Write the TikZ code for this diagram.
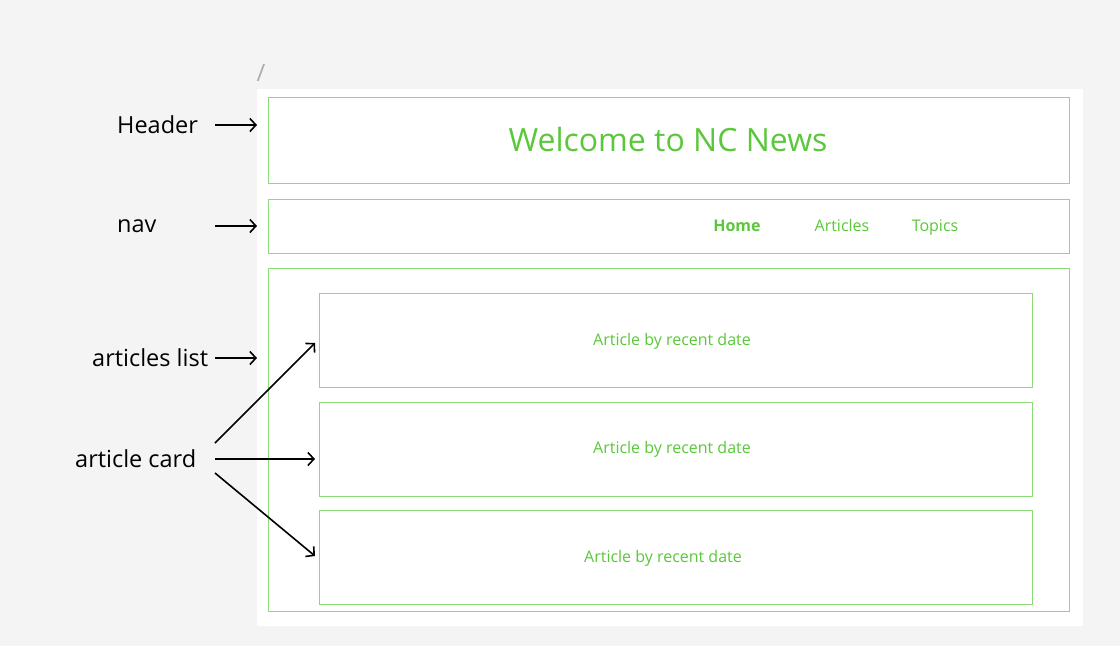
\documentclass[tikz,border=0pt]{standalone}
\usepackage{fontspec}
\setmainfont{Open Sans}
\usetikzlibrary{arrows.meta}
\definecolor{pagebg}{RGB}{244,244,244}
\definecolor{boxgreen}{RGB}{140,218,120}
\definecolor{textgreen}{RGB}{90,200,58}
\begin{document}
\begin{tikzpicture}[
  x=1pt, y=-1pt,
  box/.style={draw=boxgreen, line width=1pt},
  card/.style={box, minimum width=713pt, minimum height=94pt, anchor=north west},
  lbl/.style={inner sep=0pt, anchor=west, font=\fontsize{23.5}{27}\selectfont},
  navitem/.style={text=textgreen, anchor=base, font=\fontsize{16}{19}\selectfont},
  cardtext/.style={text=textgreen, anchor=base, font=\fontsize{16}{19}\selectfont},
  arr/.style={-{Straight Barb[length=6pt,width=13pt]}, line width=1.6pt}
]
  % Background and page
  \fill[pagebg] (0,0) rectangle (1120,646);
  \useasboundingbox (0,0) rectangle (1120,646);
  \fill[white] (257,89) rectangle (1083,626);
  \coordinate (panel) at (257,89);
  \coordinate (tail) at (215,0);
  \node[text=black!32, font=\fontsize{24}{28}\selectfont] (slash) at (261,73) {/};

  % Header and nav
  \draw[box] (268,97) rectangle (1069,183);
  \node[text=textgreen, anchor=base, font=\fontsize{32}{38}\selectfont] (title) at (668,151) {Welcome to NC News};
  \draw[box] (268,199) rectangle (1069,253);
  \node[navitem, font=\bfseries\fontsize{16}{19}\selectfont] (home) at (737,231.5) {Home};
  \node[navitem] (articles) at (842,231.5) {Articles};
  \node[navitem] (topics) at (935,231.5) {Topics};

  % Articles list
  \draw[box] (268,268) rectangle (1069,611);
  \node[card] (card1) at (319,293) {};
  \node[card] (card2) at (319,402) {};
  \node[card] (card3) at (319,510) {};
  \node[cardtext] at (672,345.5) {Article by recent date};
  \node[cardtext] at (672,453.5) {Article by recent date};
  \node[cardtext] at (663,562.5) {Article by recent date};

  % Labels
  \node[lbl] (lblhdr) at (117,125) {Header};
  \node[lbl] (lblnav) at (117,226) {nav};
  \node[lbl] (lbllist) at (92,358) {articles list};
  \node[lbl] (lblcard) at (75,459) {article card};
  \coordinate (in1) at (315,343);
  \coordinate (in2) at (315,459);
  \coordinate (in3) at (315,556);

  % Arrows
  \draw[arr] (lblhdr.east -| tail) -- (lblhdr.east -| panel);
  \draw[arr] (lblnav.east -| tail) -- (lblnav.east -| panel);
  \draw[arr] (lbllist.east -| tail) -- (lbllist.east -| panel);
  \draw[arr] ([yshift=16pt]lblcard.east -| tail) -- (in1);
  \draw[arr] (lblcard.east -| tail) -- (in2);
  \draw[arr] ([yshift=-14pt]lblcard.east -| tail) -- (in3);
\end{tikzpicture}
\end{document}
